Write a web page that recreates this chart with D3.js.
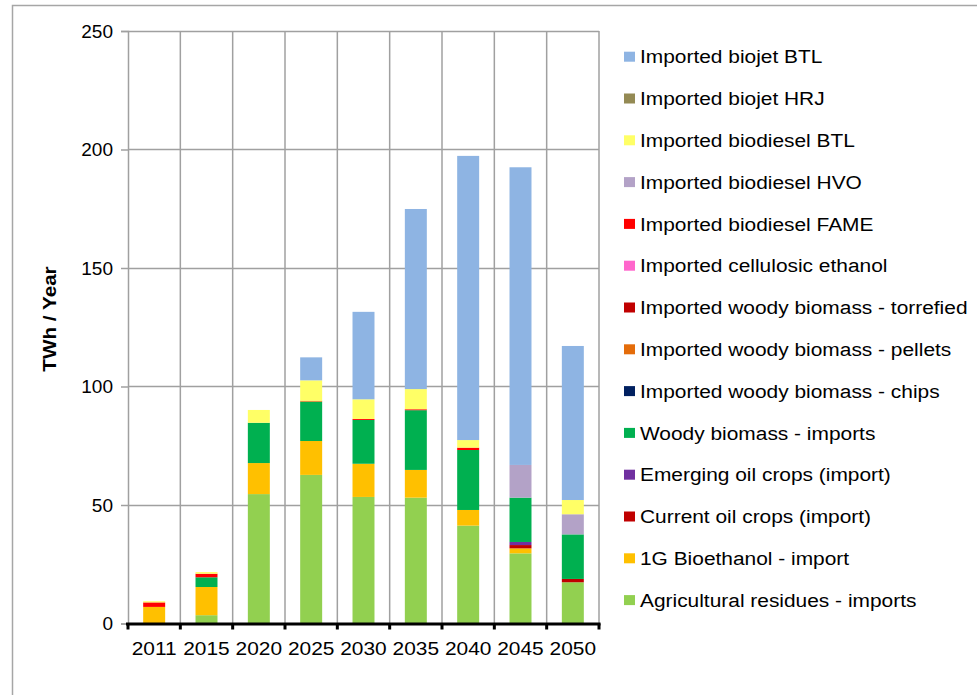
<!DOCTYPE html>
<html>
<head>
<meta charset="utf-8">
<script src="https://cdn.jsdelivr.net/npm/d3@7"></script>
<style>
  html, body { margin: 0; padding: 0; background: #fff; }
  svg { display: block; font-family: "Liberation Sans", Arial, sans-serif; }
</style>
</head>
<body>
<svg id="chart" width="977" height="695"></svg>
<script>
// ---- data ----
const years = ["2011", "2015", "2020", "2025", "2030", "2035", "2040", "2045", "2050"];

// series listed bottom-to-top of the stack
const seriesNames = [
  "Agricultural residues - imports",
  "1G Bioethanol - import",
  "Current oil crops (import)",
  "Emerging oil crops (import)",
  "Woody biomass - imports",
  "Imported woody biomass - chips",
  "Imported woody biomass - pellets",
  "Imported woody biomass - torrefied",
  "Imported cellulosic ethanol",
  "Imported biodiesel FAME",
  "Imported biodiesel HVO",
  "Imported biodiesel BTL",
  "Imported biojet HRJ",
  "Imported biojet BTL"
];
const seriesColors = [
  "#92D050", "#FFC000", "#C00000", "#7030A0", "#00B050", "#002060", "#E46C0A",
  "#C00000", "#FF66CC", "#FF0000", "#B3A2C7", "#FFFF66", "#948A54", "#8EB4E3"
];

const agriResidues   = [0,   3.5, 54.6, 62.7, 53.4, 53.1, 41.3, 29.6, 17.4];
const bioethanol1G   = [7.0, 11.9, 13.1, 14.3, 14.0, 11.7, 6.6,  2.1,  0];
const currentOil     = [0,   0,   0,    0,    0,    0,    0,    1.4,  1.4];
const emergingOil    = [0,   0,   0,    0,    0,    0,    0,    1.3,  0];
const woodyImports   = [0,   4.1, 17.0, 16.6, 18.5, 25.2, 25.3, 18.7, 18.8];
const woodyChips     = [0,   0,   0,    0,    0,    0,    0,    0,    0];
const woodyPellets   = [0,   0,   0,    0.4,  0,    0,    0,    0,    0];
const woodyTorrefied = [0,   0,   0,    0,    0,    0,    0,    0,    0];
const cellEthanol    = [0,   0,   0,    0,    0,    0,    0,    0,    0];
const biodieselFAME  = [1.9, 1.5, 0,    0,    0.4,  0.4,  1.0,  0,    0];
const biodieselHVO   = [0,   0,   0,    0,    0,    0,    0,    13.8, 8.5];
const biodieselBTL   = [0.5, 0.7, 5.4,  8.6,  8.3,  8.5,  3.2,  0,    6.0];
const biojetHRJ      = [0,   0,   0,    0,    0,    0,    0,    0,    0];
const biojetBTL      = [0,   0,   0,    9.7,  36.9, 76.0, 119.9, 125.6, 65.0];

const seriesValues = [agriResidues, bioethanol1G, currentOil, emergingOil, woodyImports,
  woodyChips, woodyPellets, woodyTorrefied, cellEthanol, biodieselFAME, biodieselHVO,
  biodieselBTL, biojetHRJ, biojetBTL];

const yTicks = [0, 50, 100, 150, 200, 250];
const yTitle = "TWh / Year";

// ---- layout ----
const svg = d3.select("#chart");
const plot = { left: 128, right: 599, top: 31, bottom: 623.5 };
const stretch = 1.1; // reference text is slightly wider than Liberation Sans

// outer chart border
svg.append("rect")
  .attr("x", 12.5).attr("y", 5.5).attr("width", 1100).attr("height", 1000)
  .attr("fill", "none").attr("stroke", "#A6A6A6").attr("stroke-width", 1.5);

const x = d3.scaleBand().domain(years).range([plot.left, plot.right])
  .paddingInner(0.58).paddingOuter(0.29);
const y = d3.scaleLinear().domain([0, 250]).range([plot.bottom, plot.top]);

const table = years.map((yr, i) => {
  const row = { year: yr };
  seriesNames.forEach((s, j) => { row[s] = seriesValues[j][i]; });
  return row;
});
const stacked = d3.stack().keys(seriesNames)(table);

// horizontal gridlines
svg.append("g").selectAll("line").data(yTicks.filter(d => d > 0)).join("line")
  .attr("x1", plot.left).attr("x2", plot.right)
  .attr("y1", d => Math.round(y(d)) + 0.5).attr("y2", d => Math.round(y(d)) + 0.5)
  .attr("stroke", "#A0A0A0").attr("stroke-width", 1.5);

// vertical gridlines at category boundaries
const step = x.step();
const boundaries = years.map((d, i) => plot.left + step * (i + 1));
svg.append("g").selectAll("line").data(boundaries).join("line")
  .attr("x1", d => d).attr("x2", d => d)
  .attr("y1", plot.top).attr("y2", plot.bottom)
  .attr("stroke", "#A0A0A0").attr("stroke-width", 1.5);

// y axis
const yAxis = d3.axisLeft(y).tickValues(yTicks).tickSize(7).tickPadding(8);
const gy = svg.append("g").attr("transform", `translate(${plot.left},0)`).call(yAxis);
gy.select(".domain").attr("stroke", "#A0A0A0").attr("stroke-width", 1.5);
gy.selectAll(".tick line").attr("stroke", "#A0A0A0").attr("stroke-width", 1.5);
gy.selectAll("text").attr("font-size", 19).attr("fill", "#000")
  .attr("font-family", "Liberation Sans, Arial, sans-serif");

// bars
svg.append("g").selectAll("g").data(stacked).join("g")
  .attr("fill", (d, i) => seriesColors[i])
  .selectAll("rect").data(d => d).join("rect")
  .attr("x", d => x(d.data.year))
  .attr("width", x.bandwidth())
  .attr("y", d => y(d[1]))
  .attr("height", d => Math.max(0, y(d[0]) - y(d[1])));

// x axis (thick black line with ticks at boundaries)
const xAxisG = svg.append("g");
xAxisG.append("line")
  .attr("x1", plot.left - 2).attr("x2", plot.right + 1.5)
  .attr("y1", plot.bottom + 0.5).attr("y2", plot.bottom + 0.5)
  .attr("stroke", "#000").attr("stroke-width", 3);
xAxisG.selectAll(".xt").data([plot.left].concat(boundaries)).join("line")
  .attr("class", "xt")
  .attr("x1", d => d).attr("x2", d => d)
  .attr("y1", plot.bottom).attr("y2", plot.bottom + 6)
  .attr("stroke", "#000").attr("stroke-width", 3);
xAxisG.selectAll("text").data(years).join("text")
  .attr("transform", d => `translate(${x(d) + x.bandwidth() / 2},655) scale(${stretch},1)`)
  .attr("text-anchor", "middle")
  .attr("font-size", 19)
  .attr("fill", "#000")
  .text(d => d);

// y title
svg.append("text")
  .attr("transform", `translate(56,319) rotate(-90) scale(1.15,1)`)
  .attr("text-anchor", "middle")
  .attr("font-size", 18).attr("font-weight", "bold").attr("fill", "#000")
  .text(yTitle);

// legend (top-to-bottom = reverse of stack)
const legendOrder = seriesNames.map((s, i) => i).reverse();
const lg = svg.append("g").selectAll("g").data(legendOrder).join("g")
  .attr("transform", (d, i) => `translate(624,${56.7 + i * 41.8})`);
lg.append("rect").attr("x", 0).attr("y", -5).attr("width", 11).attr("height", 10)
  .attr("fill", d => seriesColors[d]);
lg.append("text")
  .attr("transform", `translate(16,0) scale(${stretch},1)`)
  .attr("dy", "0.35em")
  .attr("font-size", 19).attr("fill", "#000")
  .text(d => seriesNames[d]);
</script>
</body>
</html>
